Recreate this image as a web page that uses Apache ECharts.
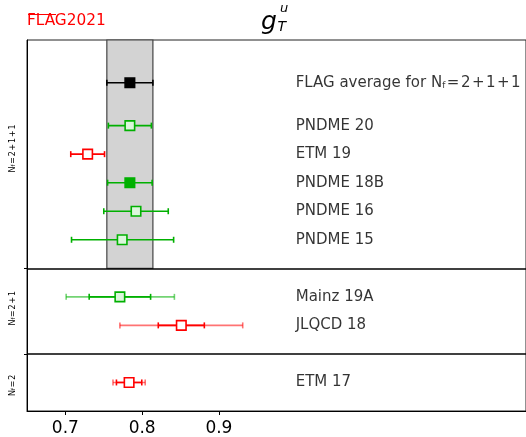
<!DOCTYPE html>
<html><head><meta charset="utf-8">
<script src="https://cdn.jsdelivr.net/npm/echarts@6/dist/echarts.min.js"></script>
<style>html,body{margin:0;padding:0;background:#fff}#c{width:526px;height:437px}</style>
</head><body><div id="c"></div>
<script>
// ---- data ----
const labels = ['FLAG average for N{s|f}\u200A=\u200A2\u200A+\u200A1\u200A+\u200A1', 'PNDME 20', 'ETM 19', 'PNDME 18B', 'PNDME 16', 'PNDME 15', 'Mainz 19A', 'JLQCD 18', 'ETM 17'];
const rows = [11.5, 10, 9, 8, 7, 6, 4, 3, 1];
const values = [0.784, 0.784, 0.729, 0.784, 0.792, 0.774, 0.771, 0.851, 0.783];
const errLow = [0.030, 0.028, 0.022, 0.029, 0.042, 0.066, 0.070, 0.080, 0.021];
const errHigh = [0.030, 0.028, 0.022, 0.029, 0.042, 0.067, 0.071, 0.080, 0.021];
const statLow = [null, null, null, null, null, null, 0.040, 0.030, 0.0165];
const statHigh = [null, null, null, null, null, null, 0.040, 0.030, 0.0165];
const quality = ['average', 'green-open', 'red-open', 'green-filled', 'green-open', 'green-open', 'green-open', 'red-open', 'red-open'];
const sectionLabels = ['2\u200A+\u200A1\u200A+\u200A1', '2\u200A+\u200A1', '2'];
const sectionCenters = [9.2, 3.6, 0.9];
const separators = [2, 5];
const sectionTop = 13;
const xTicks = [0.7, 0.8, 0.9];
const labelX = 1.0;

const GREEN = '#00b000', RED = '#ff0000';
function strokeOf(q) { return q === 'average' ? '#000' : (q.indexOf('green') === 0 ? GREEN : RED); }
function fillOf(q) {
  if (q === 'average') return '#000';
  if (q === 'green-filled') return GREEN;
  if (q === 'green-open') return '#dcf6dc';
  return '#fff';
}

function renderItem(params, api) {
  const i = params.dataIndex;
  const y = rows[i];
  const q = quality[i];
  const col = strokeOf(q);
  const ch = [];
  function bar(lo, hi, op) {
    const a = api.coord([lo, y]), b = api.coord([hi, y]);
    const st = { stroke: col, lineWidth: 1.6, opacity: op };
    ch.push({ type: 'line', shape: { x1: a[0], y1: a[1], x2: b[0], y2: b[1] }, style: st });
    ch.push({ type: 'line', shape: { x1: a[0], y1: a[1] - 3, x2: a[0], y2: a[1] + 3 }, style: st });
    ch.push({ type: 'line', shape: { x1: b[0], y1: b[1] - 3, x2: b[0], y2: b[1] + 3 }, style: st });
  }
  const v = values[i];
  if (statLow[i] != null) {
    bar(v - errLow[i], v + errHigh[i], 0.55);
    bar(v - statLow[i], v + statHigh[i], 1);
  } else {
    bar(v - errLow[i], v + errHigh[i], 1);
  }
  const c = api.coord([v, y]);
  ch.push({ type: 'rect', shape: { x: c[0] - 4.75, y: c[1] - 4.75, width: 9.5, height: 9.5 }, style: { fill: fillOf(q), stroke: col, lineWidth: 1.6 } });
  return { type: 'group', children: ch };
}

const chart = echarts.init(document.getElementById('c'), null, { renderer: 'canvas' });
const FONT = 'DejaVu Sans';
chart.setOption({
  animation: false,
  backgroundColor: '#fff',
  textStyle: { fontFamily: FONT },
  grid: { left: 27, right: -1, top: 40, bottom: 24, show: true, borderColor: '#222', borderWidth: 1, containLabel: false },
  xAxis: {
    type: 'value', min: 0.65, max: 1.3,
    axisLine: { show: true, lineStyle: { color: '#000', width: 1 } },
    axisTick: { show: true, customValues: xTicks, length: 4, lineStyle: { color: '#000' } },
    axisLabel: { customValues: xTicks, formatter: v => v.toFixed(1), color: '#000', fontSize: 17, fontFamily: FONT, margin: 9 },
    splitLine: { show: false }
  },
  yAxis: {
    type: 'value', min: 0, max: 13, interval: 1,
    axisLine: { show: true, lineStyle: { color: '#000', width: 1 } },
    axisTick: { show: true, customValues: separators, length: 3, lineStyle: { color: '#000' } },
    axisLabel: {
      customValues: sectionCenters, rotate: 90, margin: 10, color: '#000', fontSize: 8, fontFamily: FONT,
      formatter: v => 'N{s|f}\u200A=\u200A' + sectionLabels[sectionCenters.indexOf(v)],
      rich: { s: { fontSize: 5.5, fontFamily: FONT, color: '#000', verticalAlign: 'bottom', lineHeight: 6 } }
    },
    splitLine: { show: false }
  },
  graphic: [
    { type: 'text', x: 27, y: 21.5, style: { text: 'FLAG2021', font: '15.3px "DejaVu Sans"', fill: RED, align: 'left', verticalAlign: 'middle' } },
    { type: 'line', shape: { x1: 28, y1: 14.5, x2: 56, y2: 14.5 }, style: { stroke: RED, lineWidth: 1 } },
    { type: 'text', x: 261, y: 22.5, style: { text: 'g', font: 'italic 25px "DejaVu Sans"', fill: '#000', align: 'left', verticalAlign: 'middle' } },
    { type: 'text', x: 280, y: 9, style: { text: 'u', font: 'italic 13px "DejaVu Sans"', fill: '#000', align: 'left', verticalAlign: 'middle' } },
    { type: 'text', x: 277.5, y: 27, style: { text: 'T', font: 'italic 14px "DejaVu Sans"', fill: '#000', align: 'left', verticalAlign: 'middle' } }
  ],
  series: [
    {
      type: 'custom', renderItem: renderItem, z: 5,
      data: rows.map((r, i) => [values[i], r]),
      encode: { x: 0, y: 1 },
      markArea: {
        silent: true,
        itemStyle: { color: '#d3d3d3', borderColor: '#444', borderWidth: 1.2 },
        data: [[{ xAxis: values[0] - errLow[0], yAxis: separators[1] }, { xAxis: values[0] + errHigh[0], yAxis: sectionTop }]]
      },
      markLine: {
        silent: true, symbol: 'none', label: { show: false },
        lineStyle: { color: '#000', width: 1.6, type: 'solid' },
        data: separators.map(s => ({ yAxis: s }))
      }
    },
    {
      type: 'scatter', symbolSize: 0, z: 6,
      data: rows.map((r, i) => [labelX, r]),
      label: {
        show: true, position: 'right', distance: 0, color: '#000', fontSize: 15, fontFamily: FONT,
        formatter: p => labels[p.dataIndex],
        rich: { s: { fontSize: 9, fontFamily: FONT, color: '#000', verticalAlign: 'bottom', lineHeight: 10 } }
      }
    }
  ]
});
</script></body></html>
